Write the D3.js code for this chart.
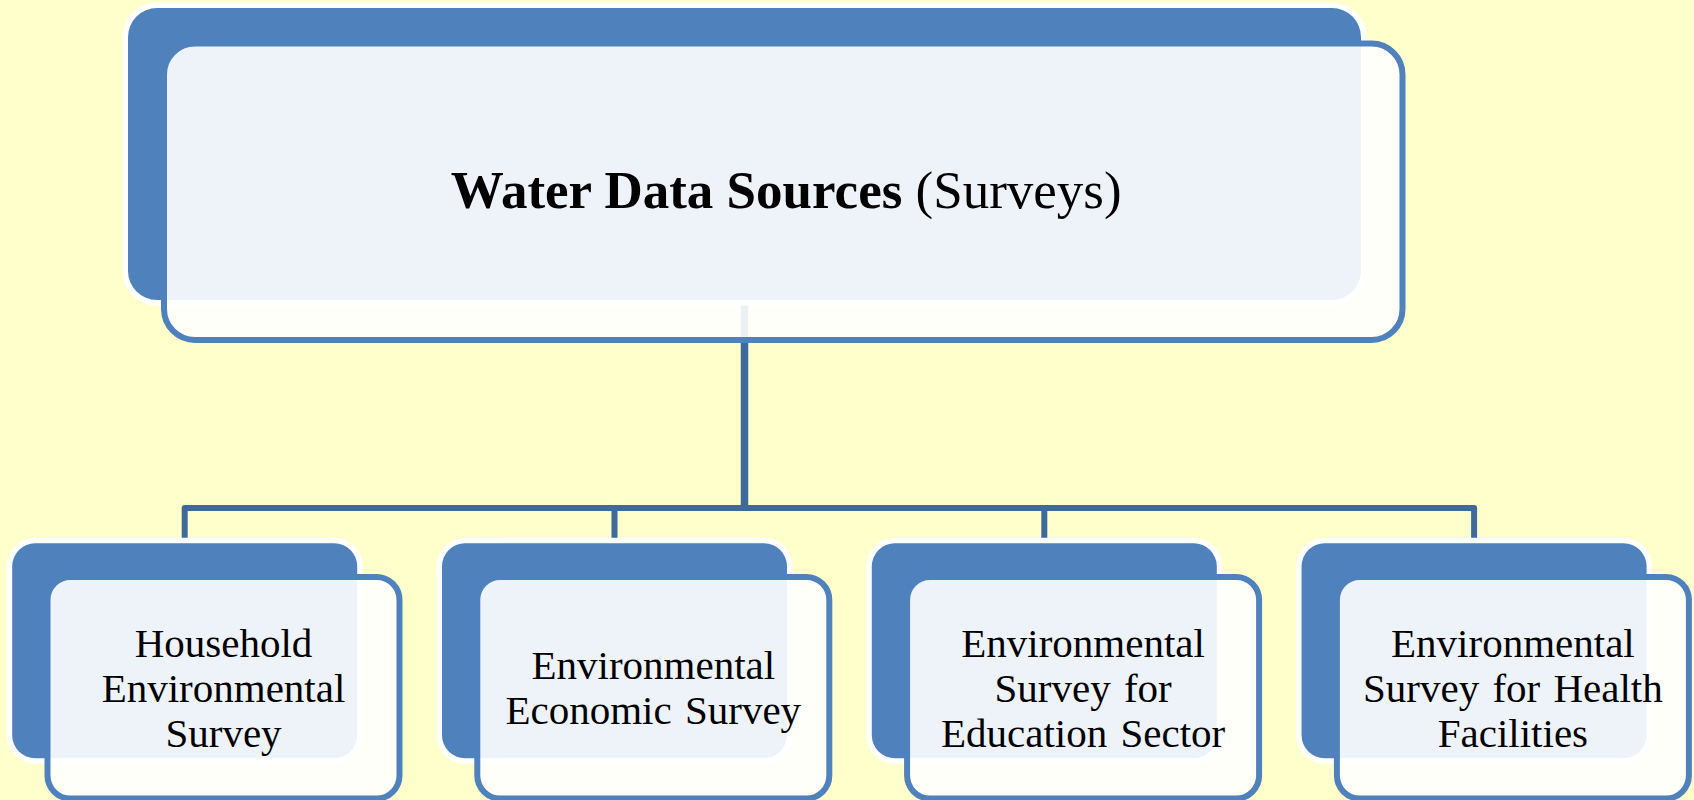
<!DOCTYPE html>
<html>
<head>
<meta charset="utf-8">
<script src="https://cdn.jsdelivr.net/npm/d3@7"></script>
<style>
  html, body { margin: 0; padding: 0; background: #FFFFCC; }
  svg { display: block; }
</style>
</head>
<body>
<script>
// data
var rootBold = "Water Data Sources";
var rootPlain = " (Surveys)";
var childNames = [
    "Household Environmental Survey",
    "Environmental Economic Survey",
    "Environmental Survey for Education Sector",
    "Environmental Survey for Health Facilities"
];
var childLines = [
    ["Household", "Environmental", "Survey"],
    ["Environmental", "Economic Survey"],
    ["Environmental", "Survey for", "Education Sector"],
    ["Environmental", "Survey for Health", "Facilities"]
];

var width = 1694, height = 800;
var blue = "#4F81BD", connColor = "#3E6A9B";

var svg = d3.select("body").append("svg")
    .attr("width", width)
    .attr("height", height);

svg.append("rect").attr("width", width).attr("height", height).attr("fill", "#FFFFCC");

var tree = d3.hierarchy({ name: rootBold + rootPlain, children: childNames.map(function (n, i) { return { name: n, lines: childLines[i] }; }) });

// layout
var rootBack = { x: 128, y: 8, w: 1233, h: 292, r: 29 };
var rootFront = { x: 164, y: 43.5, w: 1238.5, h: 296.5, r: 31 };
var childW = 345, childH = 215, childTop = 543.3, childR = 23;
var frontDx = 35.3, frontDy = 33.7, frontW = 352, frontH = 221.5;
var barY = 508;

var x = d3.scalePoint()
    .domain(childNames)
    .range([184.7, 1474.1])
    .padding(0);

var rootCx = rootBack.x + rootBack.w / 2;

// connectors
var conn = svg.append("g").attr("fill", "none").attr("stroke", connColor);
conn.append("line")
    .attr("x1", rootCx).attr("x2", rootCx)
    .attr("y1", rootBack.y + rootBack.h).attr("y2", barY)
    .attr("stroke-width", 7.5);
var first = x(childNames[0]), last = x(childNames[childNames.length - 1]);
conn.append("path")
    .attr("d", "M" + first + "," + childTop + "V" + barY + "H" + last + "V" + childTop)
    .attr("stroke-width", 6)
    .attr("stroke-linejoin", "round");
conn.selectAll("line.drop")
    .data(childNames.slice(1, -1))
    .enter().append("line")
    .attr("class", "drop")
    .attr("x1", function (d) { return x(d); })
    .attr("x2", function (d) { return x(d); })
    .attr("y1", barY).attr("y2", childTop)
    .attr("stroke-width", 6);

function backBox(g, b) {
    g.append("rect")
        .attr("x", b.x).attr("y", b.y)
        .attr("width", b.w).attr("height", b.h)
        .attr("rx", b.r).attr("ry", b.r)
        .attr("fill", blue)
        .attr("stroke", "#FFFFFF")
        .attr("stroke-width", 11)
        .style("paint-order", "stroke");
}
function frontBox(g, b) {
    g.append("rect")
        .attr("x", b.x).attr("y", b.y)
        .attr("width", b.w).attr("height", b.h)
        .attr("rx", b.r).attr("ry", b.r)
        .attr("fill", "#FFFFFF")
        .attr("fill-opacity", 0.9)
        .attr("stroke", blue)
        .attr("stroke-width", 6);
}

// root node
var rootG = svg.append("g");
backBox(rootG, rootBack);
frontBox(rootG, rootFront);
var rootText = rootG.append("text")
    .attr("x", rootFront.x + rootFront.w / 2 + 3)
    .attr("y", rootFront.y + rootFront.h / 2 + 16)
    .attr("text-anchor", "middle")
    .style("font-family", "'Liberation Serif', 'Times New Roman', serif")
    .style("font-size", "53px")
    .attr("fill", "#000");
rootText.append("tspan").attr("font-weight", "bold").text(rootBold);
rootText.append("tspan").attr("font-weight", "normal").attr("xml:space", "preserve").text(rootPlain);

// child nodes
var lineH = 45;
var childG = svg.selectAll("g.child")
    .data(tree.children)
    .enter().append("g")
    .attr("class", "child");

childG.each(function (d) {
    var g = d3.select(this);
    var cx = x(d.data.name);
    var back = { x: cx - childW / 2, y: childTop, w: childW, h: childH, r: childR };
    var front = { x: back.x + frontDx, y: childTop + frontDy, w: frontW, h: frontH, r: childR };
    backBox(g, back);
    frontBox(g, front);
    var lines = d.data.lines;
    var fcx = front.x + front.w / 2, fcy = front.y + front.h / 2 + 14;
    var t = g.append("text")
        .attr("text-anchor", "middle")
        .style("font-family", "'Liberation Serif', 'Times New Roman', serif")
        .style("font-size", "41px")
        .style("word-spacing", "3px")
        .attr("fill", "#000");
    t.selectAll("tspan")
        .data(lines)
        .enter().append("tspan")
        .attr("x", fcx)
        .attr("y", function (l, i) { return fcy + (i - (lines.length - 1) / 2) * lineH; })
        .text(function (l) { return l; });
});
</script>
</body>
</html>
